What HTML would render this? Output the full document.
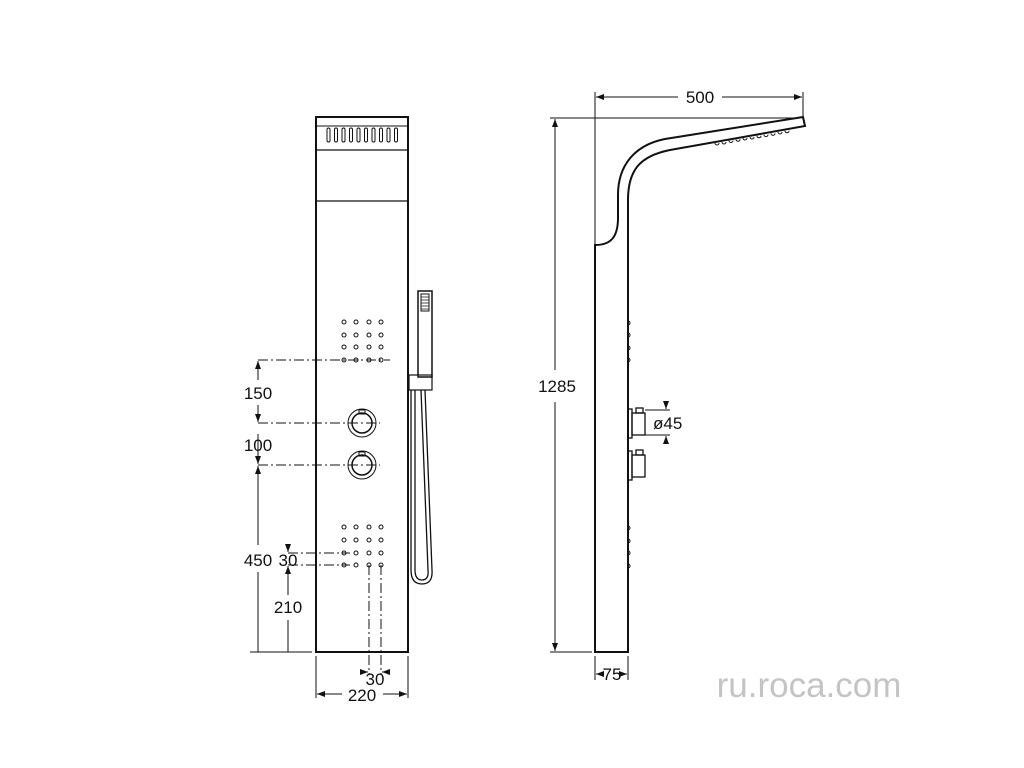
<!DOCTYPE html>
<html><head><meta charset="utf-8"><style>
html,body{margin:0;padding:0;background:#fff;}
svg{display:block;}
text{font-family:"Liberation Sans",sans-serif;fill:#111;}
</style></head><body>
<svg width="1024" height="768" viewBox="0 0 1024 768" xmlns="http://www.w3.org/2000/svg">
<defs>
<marker id="a" markerWidth="8" markerHeight="6" refX="8" refY="3" orient="auto"><path d="M0,0 L8,3 L0,6" fill="#111"/></marker>
</defs>
<g fill="none" stroke="#111">
<rect x="316" y="117" width="92" height="535" stroke-width="2"/>
<line x1="316" y1="126" x2="408" y2="126" stroke-width="1"/>
<line x1="316" y1="150" x2="408" y2="150" stroke-width="1.2"/>
<line x1="316" y1="201" x2="408" y2="201" stroke-width="1.2"/>
<g stroke-width="1">
<rect x="327" y="128" width="3" height="14" rx="1.5"/><rect x="334.5" y="128" width="3" height="14" rx="1.5"/><rect x="342" y="128" width="3" height="14" rx="1.5"/><rect x="349.5" y="128" width="3" height="14" rx="1.5"/><rect x="357" y="128" width="3" height="14" rx="1.5"/><rect x="364.5" y="128" width="3" height="14" rx="1.5"/><rect x="372" y="128" width="3" height="14" rx="1.5"/><rect x="379.5" y="128" width="3" height="14" rx="1.5"/><rect x="387" y="128" width="3" height="14" rx="1.5"/><rect x="394.5" y="128" width="3" height="14" rx="1.5"/>
</g>
<g stroke-width="1">
<circle cx="344" cy="322" r="2"/><circle cx="356" cy="322" r="2"/><circle cx="369" cy="322" r="2"/><circle cx="381" cy="322" r="2"/>
<circle cx="344" cy="335" r="2"/><circle cx="356" cy="335" r="2"/><circle cx="369" cy="335" r="2"/><circle cx="381" cy="335" r="2"/>
<circle cx="344" cy="347" r="2"/><circle cx="356" cy="347" r="2"/><circle cx="369" cy="347" r="2"/><circle cx="381" cy="347" r="2"/>
<circle cx="344" cy="360" r="2"/><circle cx="356" cy="360" r="2"/><circle cx="369" cy="360" r="2"/><circle cx="381" cy="360" r="2"/>
<circle cx="344" cy="527" r="2"/><circle cx="356" cy="527" r="2"/><circle cx="369" cy="527" r="2"/><circle cx="381" cy="527" r="2"/>
<circle cx="344" cy="540" r="2"/><circle cx="356" cy="540" r="2"/><circle cx="369" cy="540" r="2"/><circle cx="381" cy="540" r="2"/>
<circle cx="344" cy="553" r="2"/><circle cx="356" cy="553" r="2"/><circle cx="369" cy="553" r="2"/><circle cx="381" cy="553" r="2"/>
<circle cx="344" cy="565" r="2"/><circle cx="356" cy="565" r="2"/><circle cx="369" cy="565" r="2"/><circle cx="381" cy="565" r="2"/>
</g>
<circle cx="362" cy="423" r="14" stroke-width="1"/><circle cx="362" cy="423" r="10" stroke-width="1.5"/><rect x="359" y="410" width="6" height="4" stroke-width="1"/>
<circle cx="362" cy="465" r="14" stroke-width="1"/><circle cx="362" cy="465" r="10" stroke-width="1.5"/><rect x="359" y="452" width="6" height="4" stroke-width="1"/>
<rect x="418" y="291" width="14" height="86" stroke-width="1.5"/>
<rect x="421" y="294" width="8" height="17" stroke-width="1"/>
<path d="M421,297h8M421,300h8M421,303h8M421,306h8M421,309h8" stroke-width="0.7"/>
<rect x="409" y="375" width="23" height="15" stroke-width="1.2"/>
<path d="M411,390 L411,570 Q411,584 422,584 Q433,584 432,570 L425,390" stroke-width="1.3"/>
<path d="M415,390 L415,570 Q415,580 422,580 Q429,580 428,570 L421,390" stroke-width="1.3"/>
<g stroke-width="1" stroke-dasharray="10,3,2,3">
<line x1="258" y1="360" x2="390" y2="360"/>
<line x1="258" y1="423" x2="380" y2="423"/>
<line x1="258" y1="465" x2="380" y2="465"/>
<line x1="288" y1="553" x2="350" y2="553"/>
<line x1="288" y1="565" x2="350" y2="565"/>
<line x1="369" y1="565" x2="369" y2="675"/>
<line x1="381" y1="565" x2="381" y2="675"/>
</g>
<g stroke-width="1">
<line x1="258" y1="380" x2="258" y2="361" marker-end="url(#a)"/>
<line x1="258" y1="405" x2="258" y2="422" marker-end="url(#a)"/>
<line x1="258" y1="434" x2="258" y2="464" marker-end="url(#a)"/>
<line x1="258" y1="475" x2="258" y2="466" marker-end="url(#a)"/>
<line x1="258" y1="572" x2="258" y2="652"/>
<line x1="258" y1="545" x2="258" y2="466"/>
<line x1="250" y1="652" x2="312" y2="652"/>
<line x1="288" y1="544" x2="288" y2="552" marker-end="url(#a)"/>
<line x1="288" y1="595" x2="288" y2="566" marker-end="url(#a)"/>
<line x1="288" y1="620" x2="288" y2="652"/>
<line x1="316" y1="656" x2="316" y2="698"/>
<line x1="408" y1="656" x2="408" y2="698"/>
<line x1="342" y1="694" x2="317" y2="694" marker-end="url(#a)"/>
<line x1="383" y1="694" x2="407" y2="694" marker-end="url(#a)"/>
<line x1="360" y1="672" x2="368" y2="672" marker-end="url(#a)"/>
<line x1="390" y1="672" x2="382" y2="672" marker-end="url(#a)"/>
</g>
<path d="M595,652 L595,245 C610,245 618,238 618,218 L618,195 C618,165 635,145 665,139 L803,117 L805,126 L670,150 C640,156 628,170 628,200 L628,652 Z" stroke-width="2"/>
<g stroke-width="1">
<path d="M715,143 a2,2 0 0 0 4,0 M722,142 a2,2 0 0 0 4,0 M729,140.5 a2,2 0 0 0 4,0 M736,139.3 a2,2 0 0 0 4,0 M743,138 a2,2 0 0 0 4,0 M750,137 a2,2 0 0 0 4,0 M757,135.8 a2,2 0 0 0 4,0 M764,134.6 a2,2 0 0 0 4,0 M771,133.4 a2,2 0 0 0 4,0 M778,132 a2,2 0 0 0 4,0 M785,130.8 a2,2 0 0 0 4,0"/>
<path d="M628,321 a2,2 0 0 1 0,4 M628,333 a2,2 0 0 1 0,4 M628,346 a2,2 0 0 1 0,4 M628,358 a2,2 0 0 1 0,4"/>
<path d="M628,526 a2,2 0 0 1 0,4 M628,539 a2,2 0 0 1 0,4 M628,551 a2,2 0 0 1 0,4 M628,564 a2,2 0 0 1 0,4"/>
</g>
<g stroke-width="1.3">
<rect x="628" y="409" width="4" height="29"/><rect x="632" y="413" width="13" height="22"/><rect x="636" y="408" width="7" height="5"/>
<rect x="628" y="451" width="4" height="29"/><rect x="632" y="455" width="13" height="22"/><rect x="636" y="450" width="7" height="5"/>
</g>
<g stroke-width="1">
<line x1="645" y1="410" x2="670" y2="410"/><line x1="645" y1="435" x2="670" y2="435"/>
<line x1="666" y1="402" x2="666" y2="409" marker-end="url(#a)"/>
<line x1="666" y1="443" x2="666" y2="436" marker-end="url(#a)"/>
<line x1="595" y1="92" x2="595" y2="245"/>
<line x1="803" y1="92" x2="803" y2="117"/>
<line x1="678" y1="97" x2="596" y2="97" marker-end="url(#a)"/>
<line x1="722" y1="97" x2="802" y2="97" marker-end="url(#a)"/>
<line x1="550" y1="118" x2="800" y2="118"/>
<line x1="550" y1="652" x2="592" y2="652"/>
<line x1="555" y1="370" x2="555" y2="119" marker-end="url(#a)"/>
<line x1="555" y1="402" x2="555" y2="651" marker-end="url(#a)"/>
<line x1="595" y1="656" x2="595" y2="680"/>
<line x1="628" y1="656" x2="628" y2="680"/>
<line x1="602" y1="674" x2="596" y2="674" marker-end="url(#a)"/>
<line x1="621" y1="674" x2="627" y2="674" marker-end="url(#a)"/>
</g>
</g>
<g font-size="17">
<text x="258" y="399" text-anchor="middle">150</text>
<text x="258" y="451" text-anchor="middle">100</text>
<text x="258" y="566" text-anchor="middle">450</text>
<text x="288" y="566" text-anchor="middle">30</text>
<text x="288" y="613" text-anchor="middle">210</text>
<text x="375" y="685" text-anchor="middle">30</text>
<text x="362" y="701" text-anchor="middle">220</text>
<text x="700" y="103" text-anchor="middle">500</text>
<text x="557" y="392" text-anchor="middle">1285</text>
<text x="653" y="429">ø45</text>
<text x="612" y="680" text-anchor="middle">75</text>
</g>
<text x="809" y="697" text-anchor="middle" font-size="35" style="fill:#c4c4c4">ru.roca.com</text>
</svg>
</body></html>
